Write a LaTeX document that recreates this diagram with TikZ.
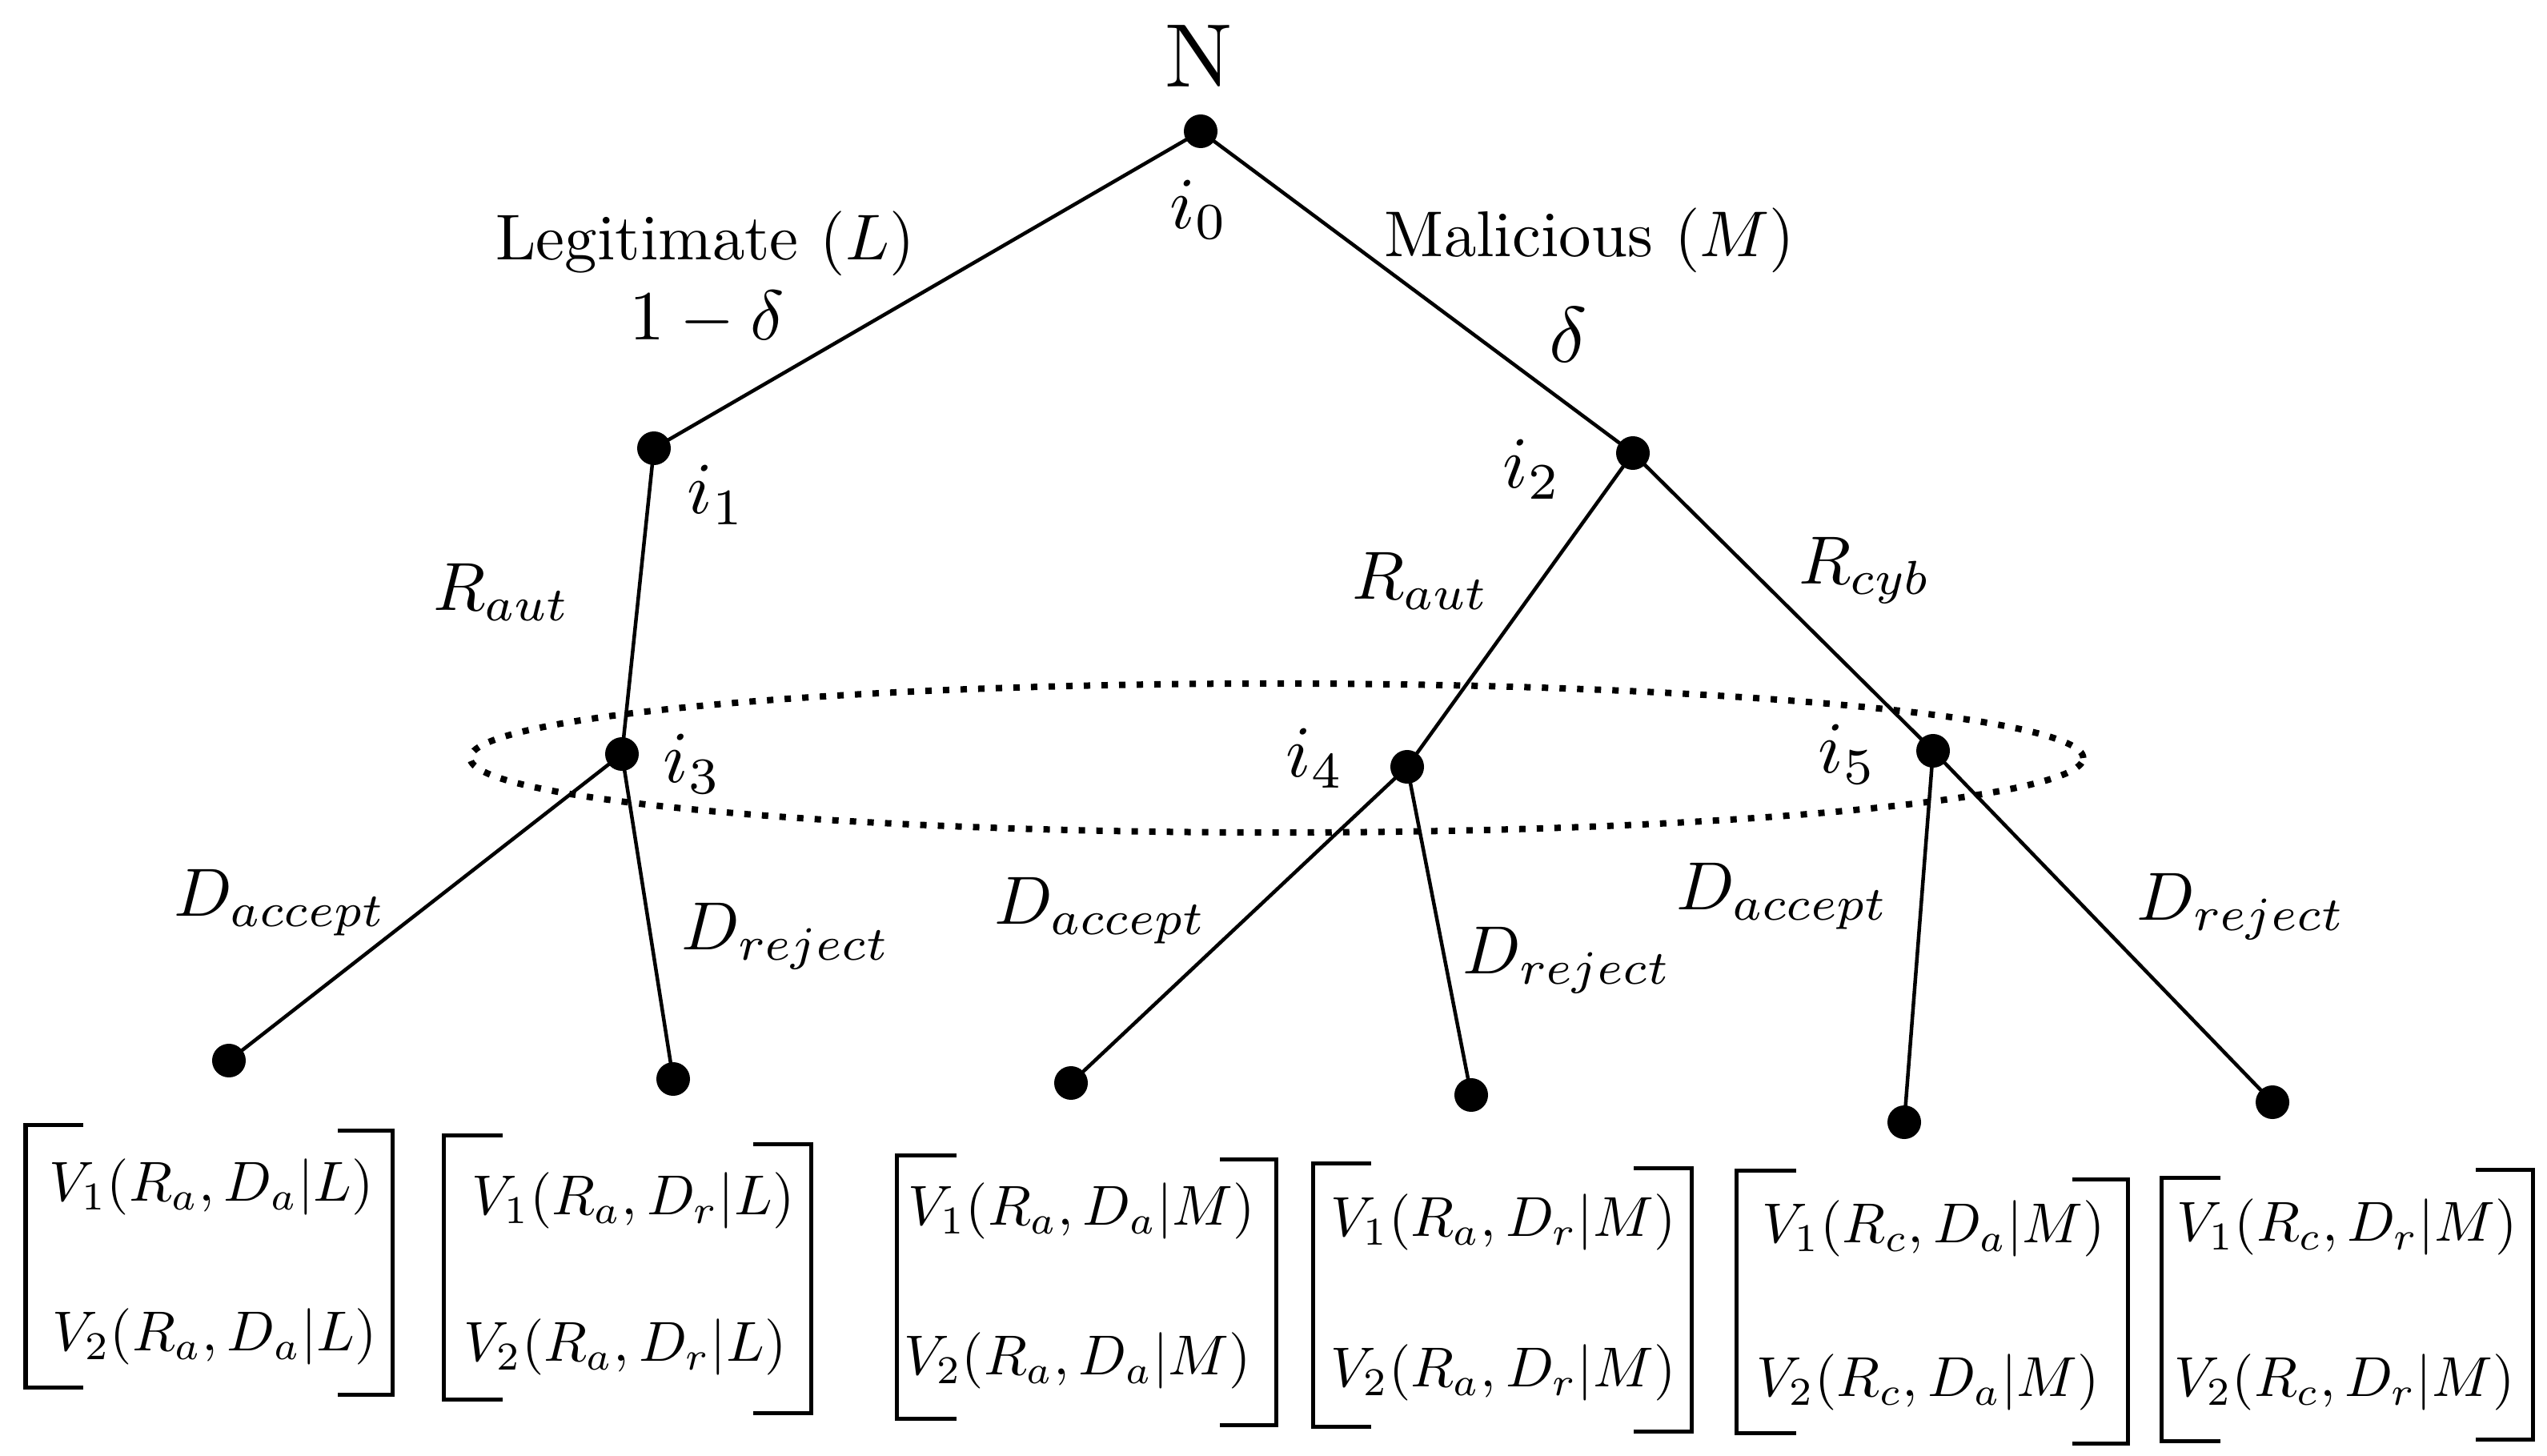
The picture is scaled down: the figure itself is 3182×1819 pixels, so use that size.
\documentclass[tikz,border=0pt]{standalone}
\begin{document}
\begin{tikzpicture}[x=0.01cm,y=-0.01cm,
  dot/.style={circle,fill=black,minimum size=0.42cm,inner sep=0pt},
  edge/.style={line width=0.045cm},
  infoset/.style={line width=0.08cm,dash pattern=on 0.08cm off 0.14cm},
  brk/.style={line width=0.05cm},
  txt/.style={inner sep=0pt,transform shape,scale=#1},
  lab/.style={txt=2.42},
  ilab/.style={txt=2.6},
  pay/.style={txt=2.0}]
\useasboundingbox (0,0) rectangle (3182,1819);
% decision nodes
\node[dot] (i0) at (1500,164) {};
\node[dot] (i1) at (817,560) {};
\node[dot] (i2) at (2040,566) {};
\node[dot] (i3) at (777,942) {};
\node[dot] (i4) at (1758,958) {};
\node[dot] (i5) at (2415,938) {};
\node[dot] (l1) at (286,1325) {};
\node[dot] (l2) at (841,1348) {};
\node[dot] (l3) at (1338,1353) {};
\node[dot] (l4) at (1838,1368) {};
\node[dot] (l5) at (2379,1402) {};
\node[dot] (l6) at (2839,1377) {};
% edges
\draw[edge] (i0.center) -- (i1.center);
\draw[edge] (i0.center) -- (i2.center);
\draw[edge] (i1.center) -- (i3.center);
\draw[edge] (i2.center) -- (i4.center);
\draw[edge] (i2.center) -- (i5.center);
\draw[edge] (i3.center) -- (l1.center);
\draw[edge] (i3.center) -- (l2.center);
\draw[edge] (i4.center) -- (l3.center);
\draw[edge] (i4.center) -- (l4.center);
\draw[edge] (i5.center) -- (l5.center);
\draw[edge] (i5.center) -- (l6.center);
% information set
\draw[infoset] (1595,947) ellipse [x radius=10.07cm, y radius=0.93cm];
% labels
\node[txt=3.2] (tN) at (1498,70) {N};
\node[ilab] (t0) at (1498,262) {$i_0$};
\node[txt=2.3] (tL) at (881,304) {Legitimate $(L)$};
\node[txt=2.5] (tp) at (883,398) {$1-\delta$};
\node[txt=2.3] (tM) at (1986,300) {Malicious $(M)$};
\node[txt=2.8] (td) at (1959,418) {$\delta$};
\node[ilab] (t1) at (895,618) {$i_1$};
\node[ilab] (t2) at (1914,586) {$i_2$};
\node[ilab] (t3) at (865,954) {$i_3$};
\node[ilab] (t4) at (1643,947) {$i_4$};
\node[ilab] (t5) at (2308,942) {$i_5$};
\node[lab] (ra1) at (627,740) {$R_{aut}$};
\node[lab] (ra2) at (1775,726) {$R_{aut}$};
\node[lab] (rc) at (2330,713) {$R_{cyb}$};
\node[lab] (da1) at (350,1128) {$D_{accept}$};
\node[lab] (dr1) at (982,1170) {$D_{reject}$};
\node[lab] (da2) at (1375,1138) {$D_{accept}$};
\node[lab] (dr2) at (1958,1200) {$D_{reject}$};
\node[lab] (da3) at (2227,1120) {$D_{accept}$};
\node[lab] (dr3) at (2800,1133) {$D_{reject}$};
% payoff brackets
\draw[brk] (104,1405) -- (32,1405) -- (32,1733) -- (104,1733);
\draw[brk] (422,1412) -- (490,1412) -- (490,1742) -- (422,1742);
\draw[brk] (628,1418) -- (554,1418) -- (554,1748) -- (628,1748);
\draw[brk] (941,1429) -- (1013,1429) -- (1013,1765) -- (941,1765);
\draw[brk] (1195,1443) -- (1120,1443) -- (1120,1772) -- (1195,1772);
\draw[brk] (1524,1448) -- (1594,1448) -- (1594,1780) -- (1524,1780);
\draw[brk] (1713,1453) -- (1640,1453) -- (1640,1782) -- (1713,1782);
\draw[brk] (2041,1459) -- (2113,1459) -- (2113,1788) -- (2041,1788);
\draw[brk] (2244,1462) -- (2169,1462) -- (2169,1790) -- (2244,1790);
\draw[brk] (2589,1473) -- (2658,1473) -- (2658,1803) -- (2589,1803);
\draw[brk] (2774,1471) -- (2700,1471) -- (2700,1800) -- (2774,1800);
\draw[brk] (3093,1461) -- (3164,1461) -- (3164,1798) -- (3093,1798);
% payoffs
\node[pay] (p1a) at (264,1483) {$V_1(R_a,D_a|L)$};
\node[pay] (p1b) at (268,1670) {$V_2(R_a,D_a|L)$};
\node[pay] (p2a) at (791,1500) {$V_1(R_a,D_r|L)$};
\node[pay] (p2b) at (781,1683) {$V_2(R_a,D_r|L)$};
\node[pay] (p3a) at (1351,1513) {$V_1(R_a,D_a|M)$};
\node[pay] (p3b) at (1346,1700) {$V_2(R_a,D_a|M)$};
\node[pay] (p4a) at (1878,1527) {$V_1(R_a,D_r|M)$};
\node[pay] (p4b) at (1878,1715) {$V_2(R_a,D_r|M)$};
\node[pay] (p5a) at (2416,1535) {$V_1(R_c,D_a|M)$};
\node[pay] (p5b) at (2409,1727) {$V_2(R_c,D_a|M)$};
\node[pay] (p6a) at (2932,1533) {$V_1(R_c,D_r|M)$};
\node[pay] (p6b) at (2929,1727) {$V_2(R_c,D_r|M)$};
\end{tikzpicture}
\end{document}
